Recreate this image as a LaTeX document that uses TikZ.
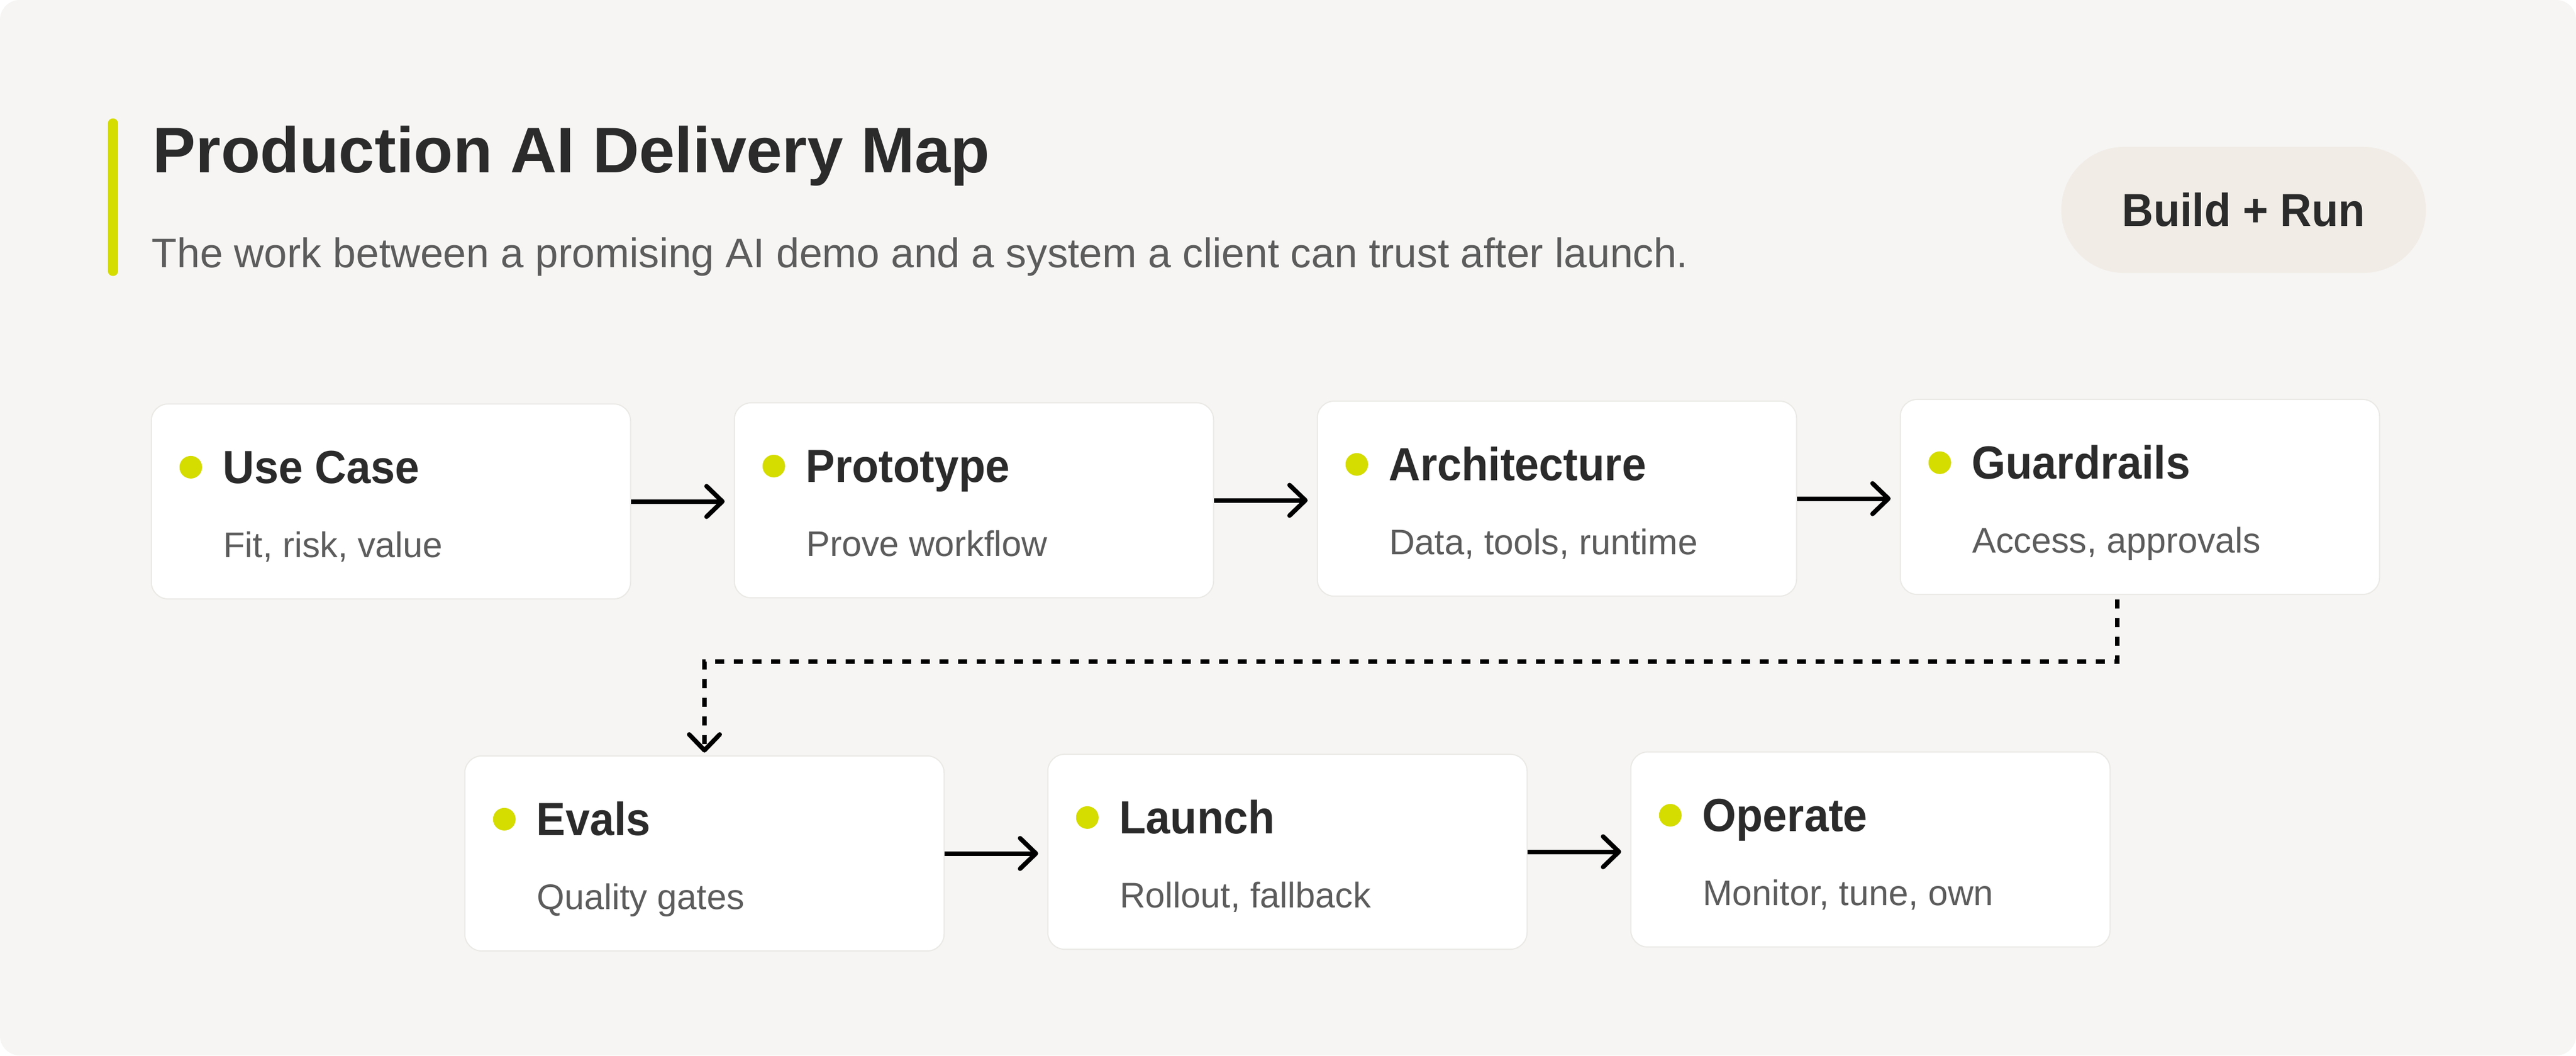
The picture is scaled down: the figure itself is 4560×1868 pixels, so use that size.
\documentclass[tikz,border=0pt]{standalone}
\usepackage{fontspec}
\setmainfont{Liberation Sans}
\newfontfamily\narrowfont[FakeStretch=0.94]{Liberation Sans}
\usetikzlibrary{arrows.meta,positioning,calc}
\definecolor{canvas}{RGB}{246,245,243}
\definecolor{edgegray}{RGB}{234,233,230}
\definecolor{lime}{RGB}{212,220,0}
\definecolor{pill}{RGB}{241,236,230}
\definecolor{ink}{RGB}{43,43,43}
\definecolor{muted}{RGB}{92,92,92}

\begin{document}
\begin{tikzpicture}[
    x=0.01cm, y=-0.01cm,
    stage/.style={draw=edgegray, line width=0.02cm, fill=white, rounded corners=0.3cm, minimum width=8.48cm, minimum height=3.45cm, inner sep=0pt},
    dot/.style={circle, fill=lime, minimum size=0.4cm, inner sep=0pt},
    stagetitle/.style={anchor=base west, inner sep=0pt, text=ink, font=\narrowfont\bfseries\fontsize{23.4pt}{28pt}\selectfont},
    stagesub/.style={anchor=base west, inner sep=0pt, text=muted, font=\fontsize{17.9pt}{22pt}\selectfont},
    flow/.style={-{Straight Barb[length=0.28cm,width=0.54cm,round]}, line width=0.08cm, shorten >=0.16cm},
    flowdash/.style={flow, dash pattern=on 0.16cm off 0.17cm, shorten >=0.05cm}
]
    % canvas
    \fill[white] (0,0) rectangle (4560,1868);
    \fill[canvas, rounded corners=0.35cm] (0,0) rectangle (4560,1868);
    \useasboundingbox (0,0) rectangle (4560,1868);

    % heading
    \draw[lime, line width=0.17cm, line cap=round] (200,218) -- (200,480);
    \node[anchor=base west, inner sep=0pt, text=ink, font=\bfseries\fontsize{32.4pt}{38pt}\selectfont] (maptitle) at (270,305) {Production AI Delivery Map};
    \node[anchor=base west, inner sep=0pt, text=muted, font=\fontsize{20.8pt}{25pt}\selectfont] (mapsub) at (268,473) {The work between a promising AI demo and a system a client can trust after launch.};
    \node[fill=pill, rounded corners=1.11cm, minimum width=6.45cm, minimum height=2.23cm, inner sep=0pt, text=ink, font=\narrowfont\bfseries\fontsize{23.3pt}{28pt}\selectfont] (buildrun) at (3971.5,371.5) {Build + Run};

    % first row
    \node[stage] (usecase) at (692,887.5) {};
    \node[dot] (usecase-dot) at ($(usecase.north west)+(71,113)$) {};
    \node[stagetitle] (usecase-title) at ($(usecase.north west)+(127,142)$) {Use Case};
    \node[stagesub] (usecase-sub) at ($(usecase.north west)+(128,273)$) {Fit, risk, value};

    \node[stage] (prototype) at (1724,885.5) {};
    \node[dot] (prototype-dot) at ($(prototype.north west)+(71,113)$) {};
    \node[stagetitle] (prototype-title) at ($(prototype.north west)+(127,142)$) {Prototype};
    \node[stagesub] (prototype-sub) at ($(prototype.north west)+(128,273)$) {Prove workflow};

    \node[stage] (architecture) at (2756,882.5) {};
    \node[dot] (architecture-dot) at ($(architecture.north west)+(71,113)$) {};
    \node[stagetitle] (architecture-title) at ($(architecture.north west)+(127,142)$) {Architecture};
    \node[stagesub] (architecture-sub) at ($(architecture.north west)+(128,273)$) {Data, tools, runtime};

    \node[stage] (guardrails) at (3788,879.5) {};
    \node[dot] (guardrails-dot) at ($(guardrails.north west)+(71,113)$) {};
    \node[stagetitle] (guardrails-title) at ($(guardrails.north west)+(127,142)$) {Guardrails};
    \node[stagesub] (guardrails-sub) at ($(guardrails.north west)+(128,273)$) {Access, approvals};

    % second row
    \node[stage] (evals) at (1247,1510.5) {};
    \node[dot] (evals-dot) at ($(evals.north west)+(71,113)$) {};
    \node[stagetitle] (evals-title) at ($(evals.north west)+(127,142)$) {Evals};
    \node[stagesub] (evals-sub) at ($(evals.north west)+(128,273)$) {Quality gates};

    \node[stage] (launch) at (2279,1507.5) {};
    \node[dot] (launch-dot) at ($(launch.north west)+(71,113)$) {};
    \node[stagetitle] (launch-title) at ($(launch.north west)+(127,142)$) {Launch};
    \node[stagesub] (launch-sub) at ($(launch.north west)+(128,273)$) {Rollout, fallback};

    \node[stage] (operate) at (3311,1503.5) {};
    \node[dot] (operate-dot) at ($(operate.north west)+(71,113)$) {};
    \node[stagetitle] (operate-title) at ($(operate.north west)+(127,142)$) {Operate};
    \node[stagesub] (operate-sub) at ($(operate.north west)+(128,273)$) {Monitor, tune, own};

    % connectors
    \draw[flow] (usecase.east) -- (usecase.east -| prototype.west);
    \draw[flow] (prototype.east) -- (prototype.east -| architecture.west);
    \draw[flow] (architecture.east) -- (architecture.east -| guardrails.west);
    \draw[flowdash] ($(guardrails.south)+(-40,8)$) |- ($(evals.north)+(0,-166)$) -- (evals.north);
    \draw[flow] (evals.east) -- (evals.east -| launch.west);
    \draw[flow] (launch.east) -- (launch.east -| operate.west);
\end{tikzpicture}
\end{document}
